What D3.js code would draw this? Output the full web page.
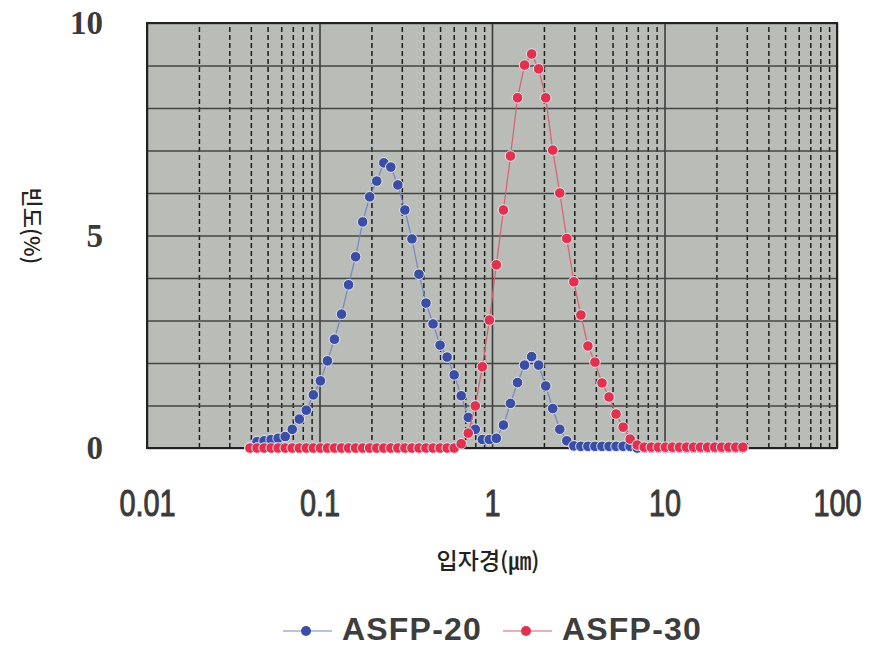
<!DOCTYPE html>
<meta charset="utf-8">
<style>
body { margin: 0; background: #fff; }
.tick text { fill: #3a3a3a; }
</style>
<body>
<script src="https://cdn.jsdelivr.net/npm/d3@7/dist/d3.min.js"></script>
<script>

// particle size classes (µm)
var sizes = [0.03955, 0.04343, 0.04772, 0.05243, 0.05760, 0.06328, 0.06951, 0.07637, 0.08388, 0.09214,
  0.1012, 0.1112, 0.1221, 0.1342, 0.1474, 0.1619, 0.1779, 0.1954, 0.2146, 0.2358,
  0.2590, 0.2845, 0.3126, 0.3434, 0.3772, 0.4144, 0.4553, 0.5000, 0.5493, 0.6035,
  0.6630, 0.7284, 0.8001, 0.8790, 0.9654, 1.060, 1.165, 1.280, 1.406, 1.544,
  1.697, 1.864, 2.048, 2.249, 2.471, 2.714, 2.982, 3.275, 3.598, 3.953,
  4.342, 4.770, 5.240, 5.756, 6.324, 6.947, 7.632, 8.384, 9.210, 10.12,
  11.11, 12.21, 13.41, 14.74, 16.18, 17.78, 19.53, 21.46, 23.57, 25.89, 28.44];

var asfp20 = [0, 0.15, 0.17, 0.20, 0.23, 0.27, 0.44, 0.68, 0.89, 1.25,
  1.58, 2.05, 2.56, 3.15, 3.84, 4.50, 5.32, 5.91, 6.28, 6.71,
  6.61, 6.19, 5.60, 4.92, 4.09, 3.41, 2.92, 2.42, 2.14, 1.72,
  1.23, 0.72, 0.44, 0.20, 0.20, 0.23, 0.54, 1.05, 1.54, 1.95,
  2.15, 1.95, 1.46, 0.93, 0.44, 0.17, 0.05, 0.04, 0.04, 0.04,
  0.04, 0.04, 0.04, 0.04, 0.04, 0, 0, 0, 0, 0,
  0, 0, 0, 0, 0, 0, 0, 0, 0, 0, 0];

var asfp30 = [0, 0, 0, 0, 0, 0, 0, 0, 0, 0,
  0, 0, 0, 0, 0, 0, 0, 0, 0, 0,
  0, 0, 0, 0, 0, 0, 0, 0, 0, 0,
  0.10, 0.35, 0.99, 1.91, 3.01, 4.31, 5.60, 6.87, 8.24, 9.01,
  9.27, 8.92, 8.24, 7.01, 6.00, 4.93, 3.91, 3.13, 2.40, 2.02,
  1.53, 1.20, 0.80, 0.49, 0.21, 0.07, 0.02, 0.02, 0.02, 0.02,
  0.02, 0.02, 0.02, 0.02, 0.02, 0.02, 0.02, 0.02, 0.02, 0.02, 0.02];

var seriesNames = ["ASFP-20", "ASFP-30"];
var xTicks = [0.01, 0.1, 1, 10, 100];
var yTicks = [0, 5, 10];
var yGrid = [0, 1, 2, 3, 4, 5, 6, 7, 8, 9, 10];

var margin = {top: 23, right: 33, bottom: 199, left: 147},
    width = 870 - margin.left - margin.right,
    height = 647 - margin.top - margin.bottom;

var x = d3.scaleLog().domain([0.01, 100]).range([0, width]);
var y = d3.scaleLinear().domain([0, 10]).range([height, 0]);

var svg = d3.select("body").append("svg")
    .attr("width", 870)
    .attr("height", 647);

var g = svg.append("g")
    .attr("transform", "translate(" + margin.left + "," + margin.top + ")");

// plot background
g.append("rect")
    .attr("width", width)
    .attr("height", height)
    .attr("fill", "#b9bcb7");

// minor vertical grid (dashed)
var minor = [];
[0.01, 0.1, 1, 10].forEach(function(d) {
  for (var k = 2; k <= 9; k++) minor.push(d * k);
});
g.append("g")
    .attr("transform", "translate(0," + height + ")")
    .call(d3.axisBottom(x).tickValues(minor).tickSize(-height).tickFormat(""))
    .call(function(a) {
      a.select(".domain").remove();
      a.selectAll("line").attr("stroke", "#1e1e1e").attr("stroke-width", 1.5).attr("stroke-dasharray", "5,3");
    });

// major vertical grid
g.append("g")
    .attr("transform", "translate(0," + height + ")")
    .call(d3.axisBottom(x).tickValues(xTicks).tickSize(-height).tickFormat(""))
    .call(function(a) {
      a.select(".domain").remove();
      a.selectAll("line").attr("stroke", "#3c3c3c").attr("stroke-width", 1.6);
    });

// horizontal grid
g.append("g")
    .call(d3.axisLeft(y).tickValues(yGrid).tickSize(-width).tickFormat(""))
    .call(function(a) {
      a.select(".domain").remove();
      a.selectAll("line").attr("stroke", "#444").attr("stroke-width", 1.6);
    });

// frame
g.append("rect")
    .attr("width", width)
    .attr("height", height)
    .attr("fill", "none")
    .attr("stroke", "#222")
    .attr("stroke-width", 2);

// x tick labels (condensed look)
g.append("g")
    .attr("transform", "translate(0," + height + ")")
    .call(d3.axisBottom(x).tickValues(xTicks).tickSize(0).tickPadding(42)
      .tickFormat(function(d) { return String(d); }))
    .call(function(a) {
      a.select(".domain").remove();
      a.selectAll("text")
        .attr("font-family", "'Liberation Sans', Arial, sans-serif")
        .attr("font-size", 37)
        .attr("stroke", "#3a3a3a")
        .attr("stroke-width", 1)
        .attr("transform", "scale(0.78,1)");
    });

// y tick labels
g.append("g")
    .call(d3.axisLeft(y).tickValues(yTicks).tickSize(0).tickPadding(44))
    .call(function(a) {
      a.select(".domain").remove();
      a.selectAll("text")
        .attr("font-family", "'Liberation Serif', serif")
        .attr("font-size", 33)
        .attr("font-weight", "bold");
    });

// axis titles
svg.append("text")
    .attr("transform", "translate(24,226) rotate(90)")
    .attr("text-anchor", "middle")
    .attr("font-family", "'Noto Sans CJK KR', sans-serif")
    .attr("font-size", 22)
    .attr("font-weight", 500)
    .attr("fill", "#222")
    .text("빈도(%)");

svg.append("text")
    .attr("x", 488)
    .attr("y", 569)
    .attr("text-anchor", "middle")
    .attr("font-family", "'Noto Sans CJK KR', sans-serif")
    .attr("font-size", 23)
    .attr("font-weight", 500)
    .attr("fill", "#222")
    .text("입자경(㎛)");

var series = [
  {name: seriesNames[0], values: asfp20, fill: "#3a4ea6", line: "#7486c6"},
  {name: seriesNames[1], values: asfp30, fill: "#e2304f", line: "#d9606f"}
];

var line = d3.line()
    .x(function(d, i) { return x(sizes[i]); })
    .y(function(d) { return y(d); });

series.forEach(function(s) {
  g.append("path")
      .datum(s.values)
      .attr("fill", "none")
      .attr("stroke", s.line)
      .attr("stroke-width", 1.2)
      .attr("d", line);
  g.selectAll(null)
      .data(s.values)
    .enter().append("circle")
      .attr("cx", function(d, i) { return x(sizes[i]); })
      .attr("cy", function(d) { return y(d); })
      .attr("r", 5.3)
      .attr("fill", s.fill)
      .attr("stroke", "#e4e6ee")
      .attr("stroke-width", 1);
});

// legend
var legendX = [283, 503];
var leg = svg.selectAll(".legend")
    .data(series)
  .enter().append("g")
    .attr("class", "legend")
    .attr("transform", function(d, i) { return "translate(" + legendX[i] + ",631)"; });

leg.append("line")
    .attr("x1", 0).attr("x2", 49)
    .attr("stroke", function(d) { return d.line; })
    .attr("stroke-width", 1.2);
leg.append("circle")
    .attr("cx", 23).attr("r", 5)
    .attr("fill", function(d) { return d.fill; });
leg.append("text")
    .attr("x", 59)
    .attr("y", 9)
    .attr("font-family", "'Liberation Sans', Arial, sans-serif")
    .attr("font-size", 32)
    .attr("font-weight", "bold")
    .attr("letter-spacing", 1.2)
    .attr("fill", "#3d3d3d")
    .text(function(d) { return d.name; });

</script>
</body>
